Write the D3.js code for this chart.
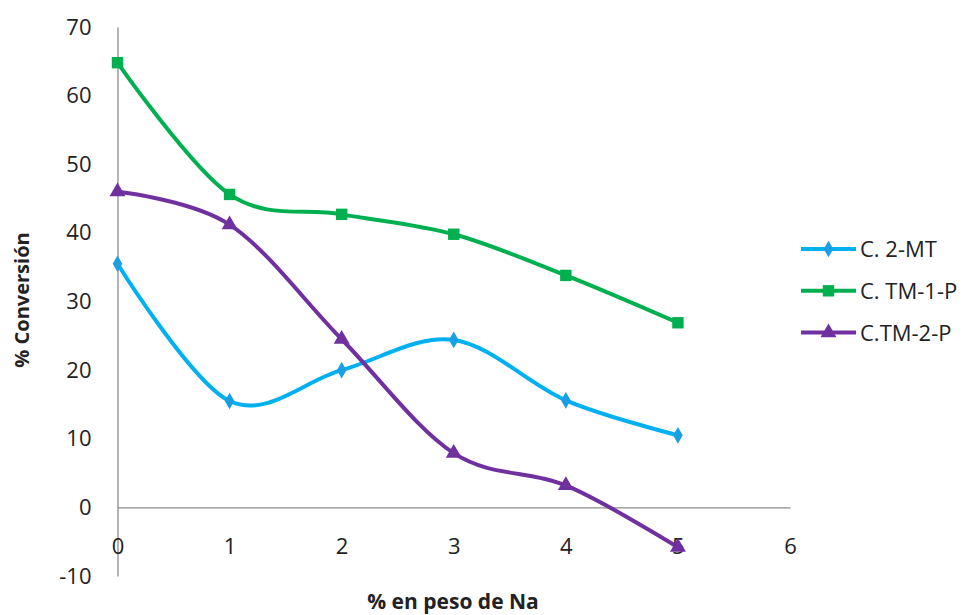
<!DOCTYPE html>
<html>
<head>
<meta charset="utf-8">
<script src="https://cdn.jsdelivr.net/npm/d3@7"></script>
<style>
  html, body { margin: 0; padding: 0; background: #fff; }
  svg { display: block; }
  text { font-family: "Open Sans", "Noto Sans", sans-serif; fill: #222; }
</style>
</head>
<body>
<svg id="chart" width="967" height="615"></svg>
<script>
// Sodium loading (% by weight)
const naLoading = [0, 1, 2, 3, 4, 5];

// Conversion (%) for each catalyst
const conv2MT  = [35.5, 15.5, 20.0, 24.4, 15.6, 10.5];
const convTM1P = [64.8, 45.6, 42.7, 39.8, 33.8, 26.9];
const convTM2P = [46.0, 41.2, 24.5, 7.9, 3.2, -5.8];

const seriesNames = ["C. 2-MT", "C. TM-1-P", "C.TM-2-P"];
const xTicks = [0, 1, 2, 3, 4, 5, 6];
const yTicks = [-10, 0, 10, 20, 30, 40, 50, 60, 70];

const series = [
  { name: seriesNames[0], values: conv2MT,  color: "#00B0F0", markColor: "#1A9FE3", symbol: d3.symbolDiamond, size: 80 },
  { name: seriesNames[1], values: convTM1P, color: "#00B050", markColor: "#00B050", symbol: d3.symbolSquare,  size: 130 },
  { name: seriesNames[2], values: convTM2P, color: "#7030A0", markColor: "#7030A0", symbol: d3.symbolTriangle, size: 110 }
];

const svg = d3.select("#chart");
const x = d3.scaleLinear().domain([0, 6]).range([117.5, 790]);
const y = d3.scaleLinear().domain([-10, 70]).range([576, 27]);

const axisColor = "#8c8c8c";
const fmt = d => String(d); // plain hyphen for negatives

// Vertical axis at x = 0
const yAxis = svg.append("g").attr("transform", `translate(${x(0)},0)`)
  .call(d3.axisLeft(y).tickValues(yTicks).tickSize(0).tickPadding(26).tickFormat(fmt));
yAxis.select(".domain").attr("stroke", axisColor).attr("stroke-width", 1.3);
yAxis.selectAll("text").attr("font-size", 22).attr("fill", "#222")
  .attr("font-family", "'Open Sans', sans-serif");

// Horizontal axis at y = 0
const xAxis = svg.append("g").attr("transform", `translate(0,${y(0)})`)
  .call(d3.axisBottom(x).tickValues(xTicks).tickSize(0).tickPadding(35).tickFormat(fmt));
xAxis.select(".domain").attr("stroke", axisColor).attr("stroke-width", 1.3);
xAxis.selectAll("text").attr("font-size", 22).attr("fill", "#222")
  .attr("font-family", "'Open Sans', sans-serif")
  .attr("dy", "0.55em");

// Axis titles
svg.append("text")
  .attr("x", 453).attr("y", 609)
  .attr("text-anchor", "middle")
  .attr("font-size", 21).attr("font-weight", "bold")
  .text("% en peso de Na");

svg.append("text")
  .attr("transform", "translate(29,300) rotate(-90)")
  .attr("text-anchor", "middle")
  .attr("font-size", 20).attr("font-weight", "bold")
  .text("% Conversión");

// Smoothed lines with markers
const line = d3.line()
  .x((d, i) => x(naLoading[i]))
  .y(d => y(d))
  .curve(d3.curveCardinal.tension(0));

series.forEach(s => {
  svg.append("path")
    .datum(s.values)
    .attr("fill", "none")
    .attr("stroke", s.color)
    .attr("stroke-width", 4)
    .attr("stroke-linejoin", "round")
    .attr("d", line);
});

series.forEach(s => {
  svg.append("g").selectAll("path")
    .data(s.values)
    .join("path")
    .attr("transform", (d, i) => `translate(${x(naLoading[i])},${y(d)})`)
    .attr("d", d3.symbol().type(s.symbol).size(s.size))
    .attr("fill", s.markColor);
});

// Legend
const legend = svg.append("g");
series.forEach((s, i) => {
  const ly = 249 + i * 41.8;
  legend.append("line")
    .attr("x1", 801).attr("x2", 856).attr("y1", ly).attr("y2", ly)
    .attr("stroke", s.color).attr("stroke-width", 4);
  legend.append("path")
    .attr("transform", `translate(828.5,${ly})`)
    .attr("d", d3.symbol().type(s.symbol).size(s.size))
    .attr("fill", s.markColor);
  legend.append("text")
    .attr("x", 860).attr("y", ly + 8)
    .attr("font-size", 22)
    .text(s.name);
});
</script>
</body>
</html>
